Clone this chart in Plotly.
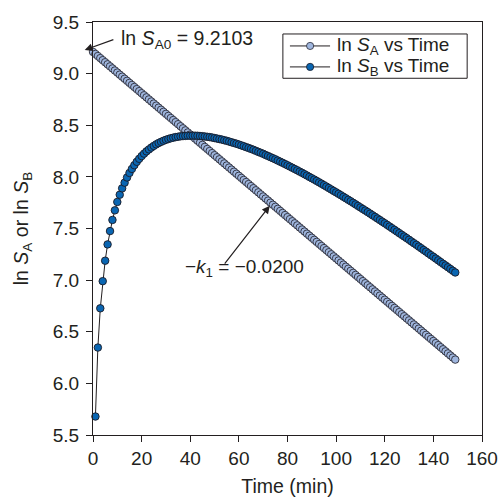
import plotly.graph_objects as go

# Sampling times (min)
time_a = list(range(0, 150))
time_b = list(range(1, 150))

# ln S_A: first-order decay of A
ln_sa = [
    9.2103, 9.1903, 9.1703, 9.1503, 9.1303, 9.1103, 9.0903, 9.0703, 9.0503, 9.0303,
    9.0103, 8.9903, 8.9703, 8.9503, 8.9303, 8.9103, 8.8903, 8.8703, 8.8503, 8.8303,
    8.8103, 8.7903, 8.7703, 8.7503, 8.7303, 8.7103, 8.6903, 8.6703, 8.6503, 8.6303,
    8.6103, 8.5903, 8.5703, 8.5503, 8.5303, 8.5103, 8.4903, 8.4703, 8.4503, 8.4303,
    8.4103, 8.3903, 8.3703, 8.3503, 8.3303, 8.3103, 8.2903, 8.2703, 8.2503, 8.2303,
    8.2103, 8.1903, 8.1703, 8.1503, 8.1303, 8.1103, 8.0903, 8.0703, 8.0503, 8.0303,
    8.0103, 7.9903, 7.9703, 7.9503, 7.9303, 7.9103, 7.8903, 7.8703, 7.8503, 7.8303,
    7.8103, 7.7903, 7.7703, 7.7503, 7.7303, 7.7103, 7.6903, 7.6703, 7.6503, 7.6303,
    7.6103, 7.5903, 7.5703, 7.5503, 7.5303, 7.5103, 7.4903, 7.4703, 7.4503, 7.4303,
    7.4103, 7.3903, 7.3703, 7.3503, 7.3303, 7.3103, 7.2903, 7.2703, 7.2503, 7.2303,
    7.2103, 7.1903, 7.1703, 7.1503, 7.1303, 7.1103, 7.0903, 7.0703, 7.0503, 7.0303,
    7.0103, 6.9903, 6.9703, 6.9503, 6.9303, 6.9103, 6.8903, 6.8703, 6.8503, 6.8303,
    6.8103, 6.7903, 6.7703, 6.7503, 6.7303, 6.7103, 6.6903, 6.6703, 6.6503, 6.6303,
    6.6103, 6.5903, 6.5703, 6.5503, 6.5303, 6.5103, 6.4903, 6.4703, 6.4503, 6.4303,
    6.4103, 6.3903, 6.3703, 6.3503, 6.3303, 6.3103, 6.2903, 6.2703, 6.2503, 6.2303,
]

# ln S_B: intermediate B, rises then falls
ln_sb = [
    5.679, 6.347, 6.727, 6.990, 7.188, 7.346, 7.475, 7.583, 7.676, 7.757,
    7.827, 7.889, 7.944, 7.994, 8.038, 8.077, 8.113, 8.146, 8.175, 8.201,
    8.225, 8.247, 8.266, 8.284, 8.300, 8.315, 8.328, 8.339, 8.350, 8.359,
    8.367, 8.374, 8.380, 8.385, 8.389, 8.393, 8.395, 8.397, 8.399, 8.399,
    8.399, 8.399, 8.398, 8.396, 8.394, 8.391, 8.388, 8.385, 8.381, 8.376,
    8.371, 8.366, 8.361, 8.355, 8.349, 8.342, 8.335, 8.328, 8.321, 8.313,
    8.305, 8.297, 8.288, 8.280, 8.271, 8.262, 8.252, 8.242, 8.233, 8.223,
    8.212, 8.202, 8.191, 8.181, 8.170, 8.158, 8.147, 8.136, 8.124, 8.112,
    8.100, 8.088, 8.076, 8.064, 8.051, 8.039, 8.026, 8.013, 8.000, 7.987,
    7.974, 7.961, 7.947, 7.934, 7.920, 7.906, 7.892, 7.878, 7.864, 7.850,
    7.836, 7.822, 7.807, 7.793, 7.778, 7.764, 7.749, 7.734, 7.719, 7.704,
    7.689, 7.674, 7.659, 7.644, 7.628, 7.613, 7.597, 7.582, 7.566, 7.551,
    7.535, 7.519, 7.503, 7.487, 7.471, 7.455, 7.439, 7.423, 7.407, 7.391,
    7.374, 7.358, 7.342, 7.325, 7.309, 7.292, 7.276, 7.259, 7.242, 7.226,
    7.209, 7.192, 7.175, 7.158, 7.142, 7.125, 7.108, 7.091, 7.074,
]

series_names = ["ln <i>S</i><sub>A</sub> vs Time", "ln <i>S</i><sub>B</sub> vs Time"]

x_ticks = [0, 20, 40, 60, 80, 100, 120, 140, 160]
y_ticks = [5.5, 6.0, 6.5, 7.0, 7.5, 8.0, 8.5, 9.0, 9.5]
y_tick_text = ["5.5", "6.0", "6.5", "7.0", "7.5", "8.0", "8.5", "9.0", "9.5"]

ln_sa0 = 9.2103
slope_label = "−<i>k</i><sub>1</sub> = −0.0200"

ink = "#231f20"
fill_a = "#9fb6de"
fill_b = "#0a66b2"
edge_a = "#2a2a35"
edge_b = "#1a1a25"
font_family = "Liberation Sans, Arial, sans-serif"

fig = go.Figure()
fig.add_trace(go.Scatter(
    x=time_a, y=ln_sa, mode="lines+markers", name=series_names[0],
    line=dict(color=ink, width=1),
    marker=dict(size=7.5, color=fill_a, line=dict(color=edge_a, width=0.9)),
    cliponaxis=False, showlegend=False,
))
fig.add_trace(go.Scatter(
    x=time_b, y=ln_sb, mode="lines+markers", name=series_names[1],
    line=dict(color=ink, width=1),
    marker=dict(size=7.5, color=fill_b, line=dict(color=edge_b, width=0.9)),
    cliponaxis=False, showlegend=False,
))

axis_common = dict(
    showgrid=False, zeroline=False, showline=True, linecolor=ink, linewidth=1.3,
    mirror=True, ticks="outside", ticklen=6, tickwidth=1.2, tickcolor=ink,
    tickfont=dict(size=19, color=ink, family=font_family), automargin=False,
)

fig.update_layout(
    width=501, height=498,
    margin=dict(l=93, r=19, t=22, b=63),
    paper_bgcolor="white", plot_bgcolor="white",
    font=dict(family=font_family, color=ink, size=19),
    xaxis=dict(range=[0, 160], tickvals=x_ticks,
               title=dict(text="Time (min)", font=dict(size=19.5), standoff=11),
               **axis_common),
    yaxis=dict(range=[5.5, 9.5], tickvals=y_ticks, ticktext=y_tick_text,
               ticklabelstandoff=3,
               title=dict(text="ln <i>S</i><sub>A</sub> or ln <i>S</i><sub>B</sub>",
                          font=dict(size=19.5), standoff=18),
               **axis_common),
    showlegend=False,
)

# Legend panel drawn in axis units: a framed box with one line+marker key per series
legend_box = dict(x0=78.1, x1=153.9, y0=8.955, y1=9.384)
legend_rows = [9.268, 9.065]
key_x0, key_x1, key_mid, text_x = 81.0, 97.5, 89.3, 99.6

fig.add_shape(type="rect", xref="x", yref="y", **legend_box,
              line=dict(color=ink, width=1), fillcolor="white", layer="above")
for row_y, fill, edge, name in zip(legend_rows, [fill_a, fill_b], [edge_a, edge_b], series_names):
    fig.add_shape(type="line", xref="x", yref="y", x0=key_x0, x1=key_x1,
                  y0=row_y, y1=row_y, line=dict(color=ink, width=1), layer="above")
    fig.add_shape(type="circle", xref="x", yref="y", xsizemode="pixel",
                  ysizemode="pixel", xanchor=key_mid, yanchor=row_y,
                  x0=-3.6, x1=3.6, y0=-3.6, y1=3.6,
                  fillcolor=fill, line=dict(color=edge, width=0.8), layer="above")
    fig.add_annotation(x=text_x, y=row_y, xref="x", yref="y", xanchor="left",
                       yanchor="middle", showarrow=False, text=name,
                       font=dict(size=19, color=ink))

# Arrow to the intercept and its label
fig.add_annotation(x=-3.4, y=9.229, ax=9.0, ay=9.335, xref="x", yref="y",
                   axref="x", ayref="y", text="", showarrow=True,
                   arrowhead=2, arrowsize=1.3, arrowwidth=1.2, arrowcolor=ink)
fig.add_annotation(x=10.5, y=9.33, xref="x", yref="y", xanchor="left",
                   yanchor="middle", showarrow=False,
                   text=f"ln <i>S</i><sub>A0</sub> = {ln_sa0:.4f}",
                   font=dict(size=19.5, color=ink))

# Arrow to the S_A line and its slope label
fig.add_annotation(x=72.7, y=7.72, ax=53.7, ay=7.146, xref="x", yref="y",
                   axref="x", ayref="y", text="", showarrow=True,
                   arrowhead=2, arrowsize=1.3, arrowwidth=1.2, arrowcolor=ink)
fig.add_annotation(x=37.0, y=7.12, xref="x", yref="y", xanchor="left",
                   yanchor="middle", showarrow=False, text=slope_label,
                   font=dict(size=19, color=ink))

fig.write_html("out.html")
